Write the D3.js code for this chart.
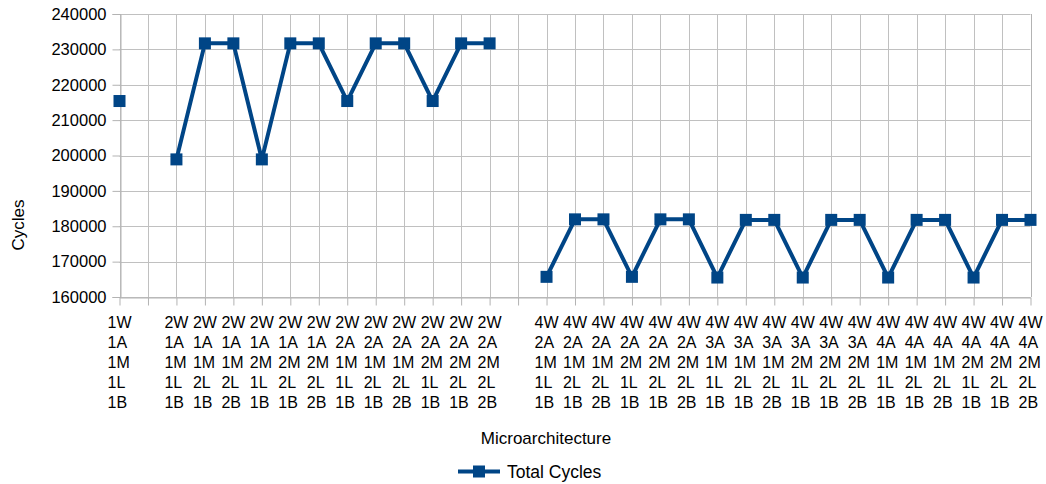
<!DOCTYPE html>
<html>
<head>
<meta charset="utf-8">
<script src="https://cdn.jsdelivr.net/npm/d3@7"></script>
<style>
  html, body { margin: 0; padding: 0; background: #fff; }
  svg { display: block; font-family: "Liberation Sans", Arial, sans-serif; }
</style>
</head>
<body>
<svg id="chart" width="1046" height="484"></svg>
<script>
// Category labels (one line per row; empty entries are spacer slots)
const categories = [
  "1W 1A 1M 1L 1B",
  "",
  "2W 1A 1M 1L 1B", "2W 1A 1M 2L 1B", "2W 1A 1M 2L 2B",
  "2W 1A 2M 1L 1B", "2W 1A 2M 2L 1B", "2W 1A 2M 2L 2B",
  "2W 2A 1M 1L 1B", "2W 2A 1M 2L 1B", "2W 2A 1M 2L 2B",
  "2W 2A 2M 1L 1B", "2W 2A 2M 2L 1B", "2W 2A 2M 2L 2B",
  "",
  "4W 2A 1M 1L 1B", "4W 2A 1M 2L 1B", "4W 2A 1M 2L 2B",
  "4W 2A 2M 1L 1B", "4W 2A 2M 2L 1B", "4W 2A 2M 2L 2B",
  "4W 3A 1M 1L 1B", "4W 3A 1M 2L 1B", "4W 3A 1M 2L 2B",
  "4W 3A 2M 1L 1B", "4W 3A 2M 2L 1B", "4W 3A 2M 2L 2B",
  "4W 4A 1M 1L 1B", "4W 4A 1M 2L 1B", "4W 4A 1M 2L 2B",
  "4W 4A 2M 1L 1B", "4W 4A 2M 2L 1B", "4W 4A 2M 2L 2B"
];

// Total cycles per configuration (null = no data)
const totalCycles = [
  215400,
  null,
  198900, 231700, 231700,
  198900, 231700, 231700,
  215400, 231700, 231700,
  215400, 231700, 231700,
  null,
  165700, 181950, 181950,
  165700, 181950, 181950,
  165500, 181800, 181800,
  165500, 181800, 181800,
  165500, 181800, 181800,
  165500, 181800, 181800
];

const yTicks = [160000, 170000, 180000, 190000, 200000, 210000, 220000, 230000, 240000];
const seriesName = "Total Cycles";
const xTitle = "Microarchitecture";
const yTitle = "Cycles";

const color = "#004586";
const gridColor = "#c0c0c0";
const plotLeft = 119.5, plotRight = 1030.5, plotTop = 14, plotBottom = 297;

const svg = d3.select("#chart");

const x = d3.scalePoint()
  .domain(d3.range(categories.length))
  .range([plotLeft, plotRight]);

const y = d3.scaleLinear()
  .domain([160000, 240000])
  .range([plotBottom, plotTop]);

// Horizontal grid
svg.append("g")
  .selectAll("line")
  .data(yTicks)
  .join("line")
  .attr("x1", plotLeft).attr("x2", plotRight)
  .attr("y1", d => Math.round(y(d)) + 0.5).attr("y2", d => Math.round(y(d)) + 0.5)
  .attr("stroke", gridColor).attr("stroke-width", 1);

// Vertical grid at every category
svg.append("g")
  .selectAll("line")
  .data(d3.range(categories.length))
  .join("line")
  .attr("x1", d => Math.round(x(d)) + 0.5).attr("x2", d => Math.round(x(d)) + 0.5)
  .attr("y1", plotTop).attr("y2", plotBottom)
  .attr("stroke", gridColor).attr("stroke-width", 1);

// Y axis
const yAxis = svg.append("g")
  .attr("transform", `translate(${Math.round(plotLeft) + 0.5},0)`)
  .call(d3.axisLeft(y).tickValues(yTicks).tickFormat(d3.format("d")).tickSize(8).tickPadding(6));
yAxis.select(".domain").attr("stroke", "#b3b3b3");
yAxis.selectAll(".tick line").attr("stroke", "#b3b3b3");
yAxis.selectAll(".tick text")
  .attr("font-size", 16.5)
  .attr("fill", "#000")
  .attr("font-family", "Liberation Sans, Arial, sans-serif");

// X axis
const xAxis = svg.append("g")
  .attr("transform", `translate(0,${plotBottom + 0.5})`)
  .call(d3.axisBottom(x).tickFormat("").tickSize(8).tickSizeOuter(0));
xAxis.select(".domain").attr("stroke", "#b3b3b3");
xAxis.selectAll(".tick line").attr("stroke", "#b3b3b3");

// Right border
svg.append("line")
  .attr("x1", Math.round(plotRight) + 0.5).attr("x2", Math.round(plotRight) + 0.5)
  .attr("y1", plotTop).attr("y2", plotBottom)
  .attr("stroke", "#b3b3b3");

// Multi-line category labels: lines left-aligned, block centred on the tick
const labels = svg.append("g")
  .attr("font-size", 16)
  .attr("fill", "#000");
categories.forEach((c, i) => {
  if (!c) return;
  const t = labels.append("text");
  const spans = c.split(" ").map((part, k) =>
    t.append("tspan")
      .attr("y", 327.5 + k * 20)
      .text(part));
  const w = d3.max(spans, s => s.node().getComputedTextLength());
  spans.forEach(s => s.attr("x", x(i) - w / 2));
});

// Series line (breaks at missing values)
const line = d3.line()
  .defined(d => d.v !== null)
  .x(d => x(d.i))
  .y(d => y(d.v));
const pts = totalCycles.map((v, i) => ({ i, v }));

svg.append("path")
  .datum(pts)
  .attr("d", line)
  .attr("fill", "none")
  .attr("stroke", color)
  .attr("stroke-width", 4)
  .attr("stroke-linejoin", "round");

const ms = 12;
svg.append("g")
  .selectAll("rect")
  .data(pts.filter(d => d.v !== null))
  .join("rect")
  .attr("x", d => x(d.i) - ms / 2)
  .attr("y", d => y(d.v) - ms / 2)
  .attr("width", ms).attr("height", ms)
  .attr("fill", color);

// Axis titles
svg.append("text")
  .attr("x", 546).attr("y", 444)
  .attr("text-anchor", "middle")
  .attr("font-size", 17)
  .text(xTitle);

svg.append("text")
  .attr("transform", "translate(24,225) rotate(-90)")
  .attr("text-anchor", "middle")
  .attr("font-size", 17)
  .text(yTitle);

// Legend
const lg = svg.append("g");
lg.append("line")
  .attr("x1", 458).attr("x2", 500)
  .attr("y1", 471.5).attr("y2", 471.5)
  .attr("stroke", color).attr("stroke-width", 4);
lg.append("rect")
  .attr("x", 473).attr("y", 465.5)
  .attr("width", 12).attr("height", 12)
  .attr("fill", color);
lg.append("text")
  .attr("x", 507).attr("y", 477.5)
  .attr("font-size", 17.5)
  .text(seriesName);
</script>
</body>
</html>
